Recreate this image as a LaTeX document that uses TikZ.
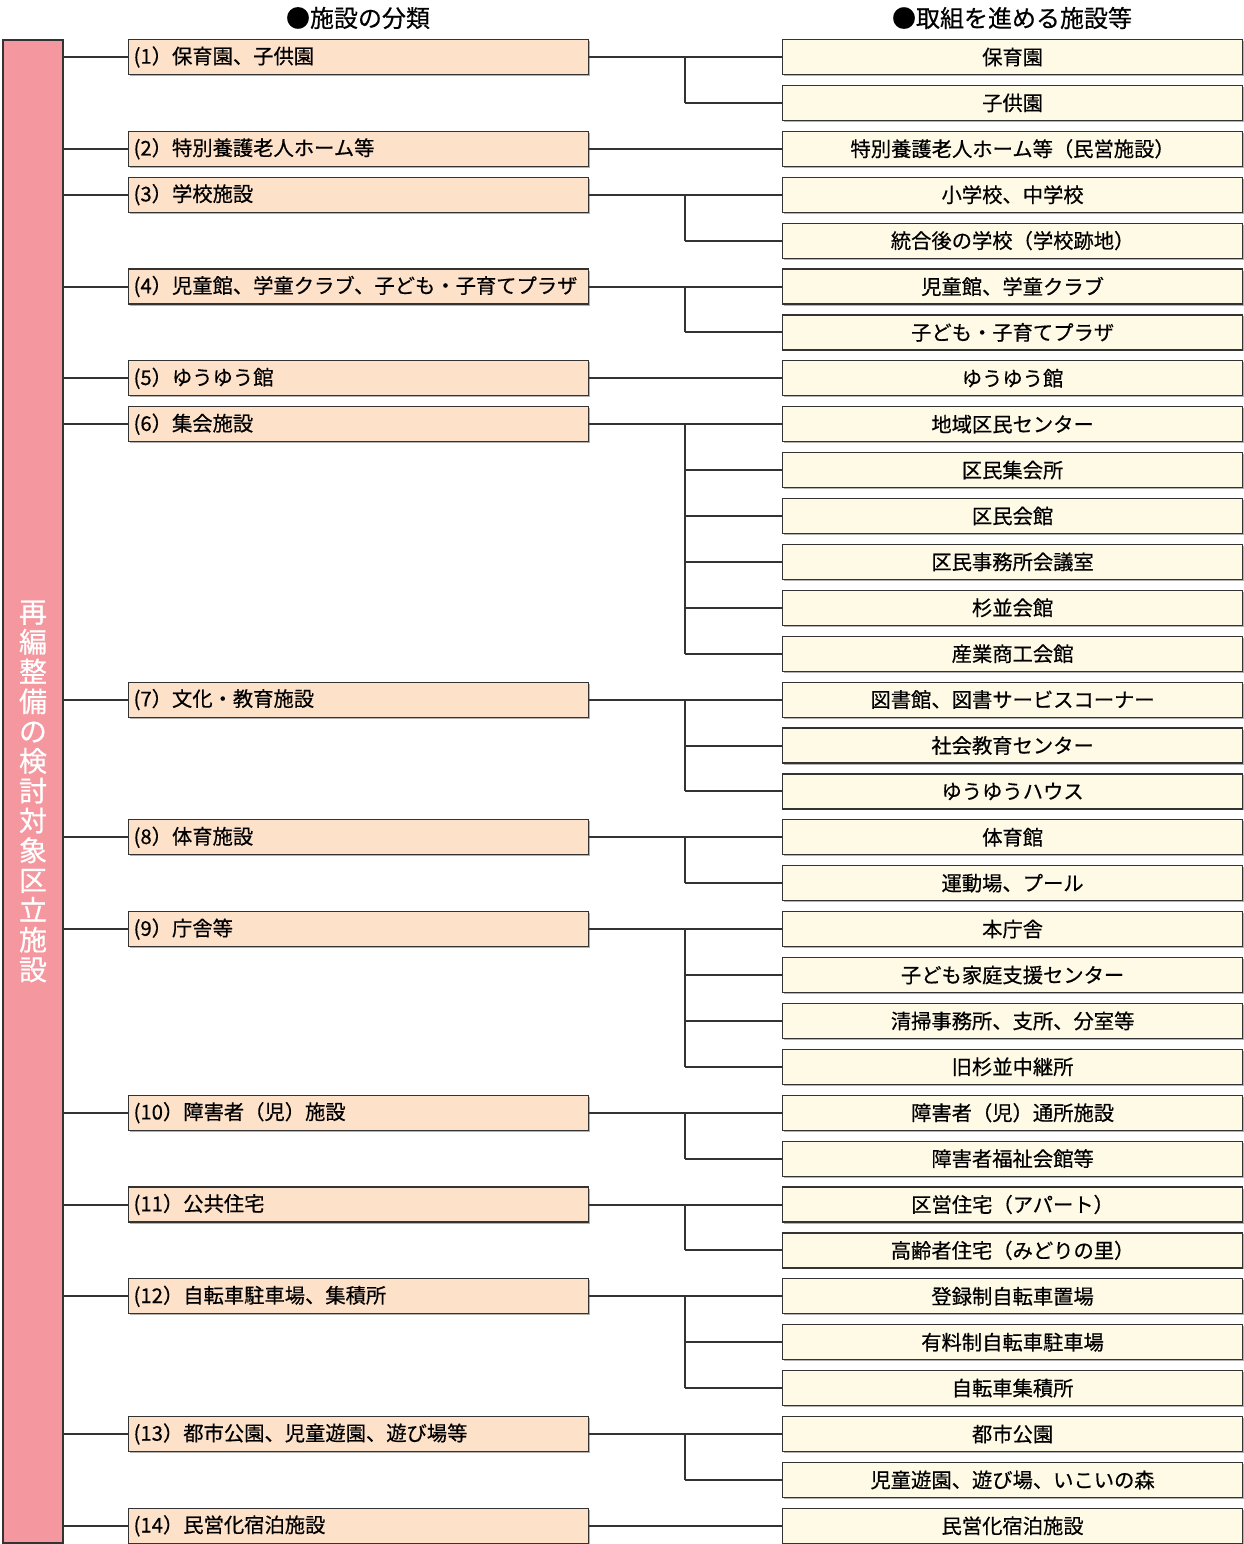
\documentclass[tikz,border=0pt]{standalone}
\usepackage{fontspec}
\setmainfont{Noto Sans CJK JP}
\newfontfamily\medfont[FakeBold=0.5]{Noto Sans CJK JP}
\usetikzlibrary{shadows}
\definecolor{barpink}{HTML}{F4979F}
\definecolor{catfill}{HTML}{FDE1C9}
\definecolor{placefill}{HTML}{FFFAE6}
\definecolor{linegray}{HTML}{333333}
\begin{document}
\begin{tikzpicture}[x=1pt, y=-1pt,
  conn/.style={draw=linegray, line width=2pt},
  catbox/.style={draw=linegray, line width=1.2pt, fill=catfill, anchor=west,
    minimum height=35pt, inner xsep=5pt, inner ysep=0pt, text width=450pt, align=left,
    font=\medfont\fontsize{20.3}{20.3}\selectfont,
    drop shadow={shadow xshift=1.5pt, shadow yshift=-1.5pt, fill=black!30, opacity=1}},
  placebox/.style={catbox, fill=placefill, align=center},
  headtext/.style={font=\medfont\fontsize{24}{24}\selectfont}]
  \useasboundingbox (0,0) rectangle (1244,1544);
  \def\rowgap{45.9}
  % titles
  \node[headtext] (head1) at (358,18) {●施設の分類};
  \node[headtext] (head2) at (1012,18) {●取組を進める施設等};
  % left bar
  \node[draw=linegray, line width=1.2pt, fill=barpink, minimum width=60pt, minimum height=1503pt,
    inner sep=0pt, text=white, align=center, font=\medfont\fontsize{28}{29.8}\selectfont] (bar) at (33,791.5)
    {再\\編\\整\\備\\の\\検\\討\\対\\象\\区\\立\\施\\設};
  \coordinate (jct) at (685,0);
  % facilities
  \foreach \k/\txt in {1/{保育園}, 2/{子供園}, 3/{特別養護老人ホーム等（民営施設）},
      4/{小学校、中学校}, 5/{統合後の学校（学校跡地）}, 6/{児童館、学童クラブ},
      7/{子ども・子育てプラザ}, 8/{ゆうゆう館}, 9/{地域区民センター}, 10/{区民集会所},
      11/{区民会館}, 12/{区民事務所会議室}, 13/{杉並会館}, 14/{産業商工会館},
      15/{図書館、図書サービスコーナー}, 16/{社会教育センター}, 17/{ゆうゆうハウス},
      18/{体育館}, 19/{運動場、プール}, 20/{本庁舎}, 21/{子ども家庭支援センター},
      22/{清掃事務所、支所、分室等}, 23/{旧杉並中継所}, 24/{障害者（児）通所施設},
      25/{障害者福祉会館等}, 26/{区営住宅（アパート）}, 27/{高齢者住宅（みどりの里）},
      28/{登録制自転車置場}, 29/{有料制自転車駐車場}, 30/{自転車集積所}, 31/{都市公園},
      32/{児童遊園、遊び場、いこいの森}, 33/{民営化宿泊施設}}
    \node[placebox] (R\k) at (782,{57+(\k-1)*\rowgap}) {\txt};
  % categories and connectors
  \foreach \i/\r/\e/\txt in {1/1/2/{(1）保育園、子供園}, 2/3/3/{(2）特別養護老人ホーム等},
      3/4/5/{(3）学校施設}, 4/6/7/{(4）児童館、学童クラブ、子ども・子育てプラザ},
      5/8/8/{(5）ゆうゆう館}, 6/9/14/{(6）集会施設}, 7/15/17/{(7）文化・教育施設},
      8/18/19/{(8）体育施設}, 9/20/23/{(9）庁舎等}, 10/24/25/{(10）障害者（児）施設},
      11/26/27/{(11）公共住宅}, 12/28/30/{(12）自転車駐車場、集積所},
      13/31/32/{(13）都市公園、児童遊園、遊び場等}, 14/33/33/{(14）民営化宿泊施設}}{
    \node[catbox] (L\i) at (128,{57+(\r-1)*\rowgap}) {\txt};
    \draw[conn] (bar.east |- L\i.west) -- (L\i.west);
    \draw[conn] (L\i.east) -- (R\r.west);
    \draw[conn] (jct |- L\i.east) -- (jct |- R\e.west);
    \foreach \k in {\r,...,\e}
      \draw[conn] (jct |- R\k.west) -- (R\k.west);
  }
\end{tikzpicture}
\end{document}
